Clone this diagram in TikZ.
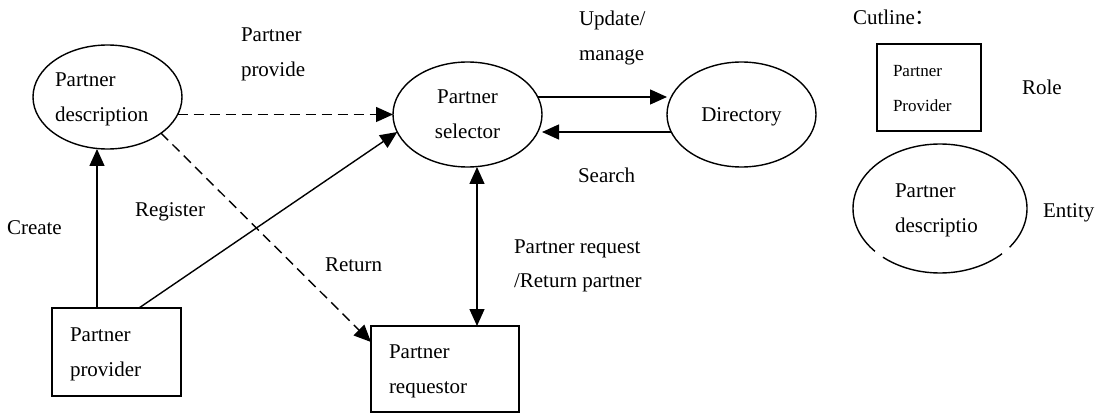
\documentclass[tikz,border=0pt]{standalone}
\usepackage{fontspec}
\setmainfont{Liberation Serif}
\newfontfamily\cjkfont{Noto Sans CJK SC}
\usetikzlibrary{arrows.meta,shapes.geometric}
\newcommand\twolinetxt[2]{\begin{tabular}[t]{@{}l@{}}#1\\#2\end{tabular}}
\newcommand\leftblock[3]{\makebox[#1][l]{\begin{tabular}[t]{@{}l@{}}#2\\#3\end{tabular}}}
\newcommand\centerblock[2]{\begin{tabular}[t]{@{}c@{}}#1\\#2\end{tabular}}
\begin{document}
\begin{tikzpicture}[x=1pt,y=-1pt,
  >={Triangle[length=17pt,width=15pt]},
  every node/.style={inner sep=0pt, outer sep=0pt, font=\fontsize{21}{35}\selectfont},
  ent/.style={ellipse, draw, line width=1.4pt},
  role/.style={rectangle, draw, line width=1.4pt},
  lbl/.style={anchor=base west},
  conn/.style={line width=1.4pt},
  arr/.style={conn, ->},
  dblarr/.style={conn, <->},
  dasharr/.style={conn, ->, dash pattern=on 10pt off 6pt}]
\useasboundingbox (0,0) rectangle (1103,414);

% entities and roles
\node[ent, minimum width=149, minimum height=104] (descr) at (107.5,97) {\leftblock{105pt}{Partner}{description}};
\node[ent, minimum width=149, minimum height=105] (sel) at (467.5,114.5) {\centerblock{Partner}{selector}};
\node[ent, minimum width=149, minimum height=105] (dir) at (741.5,114.5) {\begin{tabular}[t]{@{}c@{}}Directory\end{tabular}};
\node[role, minimum width=129, minimum height=88] (prov) at (116.5,352) {\leftblock{93pt}{Partner}{provider}};
\node[role, minimum width=148, minimum height=86] (req) at (445,369) {\leftblock{112pt}{Partner}{requestor}};

% legend
\node[lbl] (lcut) at (853,25) {Cutline{\cjkfont ：}};
\node[role, minimum width=104, minimum height=87, font=\fontsize{17}{35}\selectfont] (legR) at (929,87.5) {\leftblock{72pt}{Partner}{Provider}};
\node[lbl] (lrole) at (1022,95) {Role};
\node[ellipse, draw, line width=1.4pt, dash pattern=on 289pt off 10pt on 126pt off 10pt on 60pt off 0pt,
      minimum width=174, minimum height=129] (legE) at (940,208.5) {\leftblock{90pt}{Partner}{descriptio}};
\node[lbl] (lent) at (1043,218) {Entity};

% labels
\node[lbl] (lprov) at (241,42) {\twolinetxt{Partner}{provide}};
\node[lbl] (lupd) at (579,26) {\twolinetxt{Update/}{manage}};
\node[lbl] (lreq) at (514,253) {\twolinetxt{Partner request}{/Return partner}};
\node[lbl] (lcreate) at (7,235) {Create};
\node[lbl] (lreg) at (135,217) {Register};
\node[lbl] (lret) at (325,271) {Return};
\node[lbl] (lsearch) at (578,183) {Search};

% connectors
\coordinate (cc) at ([xshift=-19.5pt]prov.north);
\draw[arr] (cc) -- (cc |- descr.south);
\draw[arr] ([xshift=22.5pt]prov.north) -- (sel.194);
\draw[dasharr] (descr.-14) -- (sel.west |- descr.-14);
\draw[dasharr] (descr.-34) -- ([yshift=-16pt]req.north west);
\draw[arr] (sel.14) -- (dir.west |- sel.14);
\draw[arr] (dir.194) -- (sel.east |- dir.194);
\coordinate (cd) at ([xshift=9.5pt]sel.south);
\draw[dblarr] (cd) -- (cd |- req.north);
\end{tikzpicture}
\end{document}
